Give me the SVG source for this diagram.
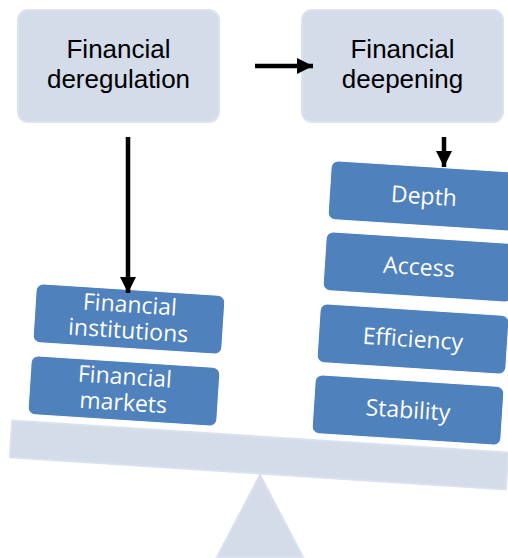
<svg xmlns="http://www.w3.org/2000/svg" width="508" height="558" viewBox="0 0 508 558">
<style>
.top{fill:#d4dbe9;stroke:#dce2ee;stroke-width:2}
.blue{fill:#4f81bd;stroke:#ffffff;stroke-width:1}
.base{fill:#d4dbe9;stroke:#dbe1ee;stroke-width:2}
.tt{font-family:"Liberation Sans",Arial,sans-serif;font-size:26px;fill:#000;text-anchor:middle}
.bt{font-family:"Open Sans","Liberation Sans",sans-serif;font-size:23px;fill:#fff;text-anchor:middle}
.arr{stroke:#000;stroke-width:4.5;fill:none}
</style>
<defs>
<marker id="ah" viewBox="0 0 16 16" refX="16" refY="8" markerWidth="16" markerHeight="16" markerUnits="userSpaceOnUse" orient="auto">
<path d="M0,0 L16,8 L0,16 Z" fill="#000"/>
</marker>
</defs>
<g id="fulcrum">
<polygon class="base" points="260,475 217,557 303,557"/>
</g>
<g id="beam">
<rect class="base" x="10.5" y="436.5" width="497" height="37" transform="rotate(3.7 259 455)"/>
</g>
<g id="deregulation">
<rect class="top" x="18" y="10" width="201" height="112" rx="10"/>
<text class="tt" x="118.5" y="58">Financial</text>
<text class="tt" x="118.5" y="88">deregulation</text>
</g>
<g id="deepening">
<rect class="top" x="302" y="10" width="201" height="112" rx="10"/>
<text class="tt" x="402.5" y="58">Financial</text>
<text class="tt" x="402.5" y="88">deepening</text>
</g>
<g id="depth" transform="translate(424 196) rotate(3.7)">
<rect class="blue" x="-94.5" y="-29.5" width="189" height="59" rx="7"/>
<text class="bt" x="0" y="8">Depth</text>
</g>
<g id="access" transform="translate(419 267) rotate(3.7)">
<rect class="blue" x="-94.5" y="-29.5" width="189" height="59" rx="7"/>
<text class="bt" x="0" y="8">Access</text>
</g>
<g id="efficiency" transform="translate(413 339) rotate(3.7)">
<rect class="blue" x="-94.5" y="-29.5" width="189" height="59" rx="7"/>
<text class="bt" x="0" y="8">Efficiency</text>
</g>
<g id="stability" transform="translate(408 410) rotate(3.7)">
<rect class="blue" x="-94.5" y="-29.5" width="189" height="59" rx="7"/>
<text class="bt" x="0" y="8">Stability</text>
</g>
<g id="institutions" transform="translate(129 319) rotate(3.7)">
<rect class="blue" x="-94.5" y="-29.5" width="189" height="59" rx="7"/>
<text class="bt" x="0" y="-6.5">Financial</text>
<text class="bt" x="0" y="19.5">institutions</text>
</g>
<g id="markets" transform="translate(124 391) rotate(3.7)">
<rect class="blue" x="-94.5" y="-29.5" width="189" height="59" rx="7"/>
<text class="bt" x="0" y="-6.5">Financial</text>
<text class="bt" x="0" y="19.5">markets</text>
</g>
<g id="connectors">
<line class="arr" x1="255" y1="66" x2="313" y2="66" marker-end="url(#ah)"/>
<line class="arr" x1="128" y1="137" x2="128" y2="293" marker-end="url(#ah)"/>
<line class="arr" x1="444" y1="137" x2="444" y2="167" marker-end="url(#ah)"/>
</g>
</svg>
